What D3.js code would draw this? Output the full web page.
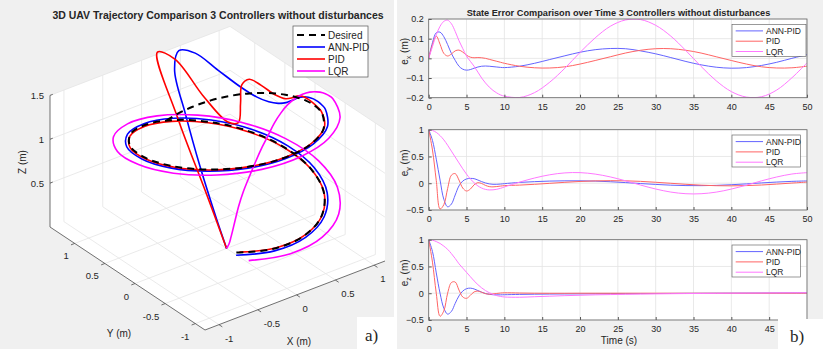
<!DOCTYPE html>
<html>
<head>
<meta charset="utf-8">
<script src="https://cdn.jsdelivr.net/npm/d3@7"></script>
<style>
  body { margin: 0; background: #fff; }
  text { font-family: "Liberation Sans", Arial, sans-serif; fill: #262626; }
</style>
</head>
<body>
<svg id="chart" width="823" height="354"></svg>
<script>
// ---- data ----
const timeS = [0,0.5,1,1.5,2,2.5,3,3.5,4,4.5,5,5.5,6,6.5,7,7.5,8,8.5,9,9.5,10,12,14,16,18,20,22,24,26,28,30,32,34,36,38,40,42,44,46,48,50];

// desired path (m)
const desiredX = [0,0.100,0.199,0.296,0.389,0.479,0.565,0.644,0.717,0.783,0.841,0.891,0.932,0.964,0.985,0.997,1.000,0.992,0.974,0.946,0.909,0.675,0.335,-0.058,-0.443,-0.757,-0.952,-0.996,-0.883,-0.631,-0.279,0.117,0.494,0.794,0.968,0.989,0.855,0.585,0.223,-0.175,-0.544];
const desiredY = [1,0.995,0.980,0.955,0.921,0.878,0.825,0.765,0.697,0.622,0.540,0.454,0.362,0.267,0.170,0.071,-0.029,-0.129,-0.227,-0.323,-0.416,-0.737,-0.942,-0.998,-0.897,-0.654,-0.307,0.087,0.469,0.776,0.960,0.993,0.869,0.608,0.247,-0.146,-0.519,-0.811,-0.975,-0.985,-0.839];
const desiredZ = [1,1.025,1.050,1.075,1.099,1.124,1.148,1.171,1.195,1.217,1.240,1.261,1.282,1.303,1.322,1.341,1.359,1.376,1.392,1.407,1.421,1.466,1.493,1.500,1.487,1.455,1.404,1.338,1.258,1.167,1.071,0.971,0.872,0.779,0.694,0.622,0.564,0.524,0.503,0.502,0.521];

// state errors e = desired - actual (m)
const exAnn = [0,0.08,0.13,0.133,0.11,0.07,0.025,-0.01,-0.04,-0.055,-0.06,-0.057,-0.05,-0.044,-0.04,-0.039,-0.04,-0.042,-0.044,-0.046,-0.047,-0.04,-0.025,-0.006,0.013,0.031,0.044,0.05,0.049,0.038,0.023,0.004,-0.016,-0.033,-0.045,-0.05,-0.047,-0.036,-0.02,0.0,0.019];
const exPid = [0,0.07,0.113,0.072,0.025,0.012,0.022,0.038,0.042,0.032,0.016,0.006,0.003,0.004,0.003,0.0,-0.005,-0.01,-0.015,-0.02,-0.025,-0.04,-0.048,-0.049,-0.043,-0.029,-0.011,0.008,0.027,0.041,0.049,0.049,0.041,0.027,0.008,-0.011,-0.029,-0.043,-0.049,-0.048,-0.04];
const exLqr = [0,0.06,0.12,0.163,0.188,0.194,0.176,0.137,0.09,0.05,0.012,-0.015,-0.04,-0.07,-0.1,-0.125,-0.146,-0.163,-0.176,-0.186,-0.192,-0.199,-0.174,-0.121,-0.05,0.03,0.104,0.163,0.195,0.197,0.168,0.113,0.039,-0.041,-0.114,-0.169,-0.197,-0.195,-0.161,-0.099,-0.023];

const eyAnn = [1,0.8,0.45,0.06,-0.3,-0.44,-0.39,-0.22,-0.05,0.04,0.08,0.09,0.085,0.06,0.03,0.005,-0.012,-0.02,-0.02,-0.015,-0.008,0.015,0.03,0.04,0.045,0.045,0.04,0.028,0.012,-0.006,-0.022,-0.036,-0.044,-0.045,-0.04,-0.028,-0.012,0.006,0.022,0.035,0.043];
const eyPid = [1,0.62,0.05,-0.48,-0.4,-0.1,0.15,0.18,0.06,-0.09,-0.145,-0.11,-0.03,0.01,-0.005,-0.04,-0.063,-0.068,-0.062,-0.053,-0.045,-0.035,-0.02,-0.002,0.017,0.033,0.044,0.048,0.045,0.035,0.018,-0.001,-0.02,-0.036,-0.046,-0.049,-0.044,-0.033,-0.016,0.003,0.021];
const eyLqr = [1,0.985,0.95,0.89,0.81,0.71,0.6,0.49,0.38,0.27,0.17,0.08,0.01,-0.05,-0.09,-0.115,-0.125,-0.123,-0.113,-0.095,-0.07,0.02,0.098,0.158,0.193,0.198,0.171,0.118,0.046,-0.034,-0.108,-0.165,-0.196,-0.196,-0.166,-0.109,-0.035,0.045,0.117,0.172,0.198];

const ezAnn = [1,0.78,0.38,0.0,-0.28,-0.39,-0.34,-0.19,-0.05,0.04,0.085,0.095,0.08,0.05,0.02,-0.005,-0.02,-0.028,-0.03,-0.03,-0.028,-0.022,-0.018,-0.015,-0.013,-0.012,-0.01,-0.009,-0.008,-0.006,-0.005,-0.004,-0.002,-0.001,0.0,0.001,0.002,0.003,0.004,0.005,0.005];
const ezPid = [1,0.58,0.0,-0.43,-0.33,0.0,0.2,0.21,0.06,-0.07,-0.095,-0.04,0.025,0.04,0.018,-0.008,-0.018,-0.013,-0.004,0.004,0.008,0.004,0.0,-0.001,-0.001,0,0,0,0,0,0,0,0,0,0,0,0,0,0,0,0];
const ezLqr = [1,0.99,0.965,0.93,0.88,0.82,0.74,0.65,0.55,0.47,0.39,0.31,0.23,0.16,0.1,0.05,0.01,-0.02,-0.045,-0.06,-0.07,-0.075,-0.065,-0.055,-0.045,-0.038,-0.03,-0.025,-0.02,-0.016,-0.012,-0.009,-0.006,-0.004,-0.002,0.0,0.002,0.004,0.006,0.008,0.01];

const controllers = ["ANN-PID", "PID", "LQR"];
const xTicks3d = [-1, -0.5, 0, 0.5, 1];
const yTicks3d = [-1, -0.5, 0, 0.5, 1];
const zTicks3d = [0.5, 1, 1.5];
const timeTicks = d3.range(0, 51, 5);
const exTicks = [-0.2, -0.1, 0, 0.1, 0.2];
const eyTicks = [-0.5, 0, 0.5, 1];
const ezTicks = [-0.5, 0, 0.5, 1];

// ---- page ----
const svg = d3.select("#chart");
svg.append("rect").attr("x", 0).attr("y", 0).attr("width", 394).attr("height", 349).attr("fill", "#f0f0f0");
svg.append("rect").attr("x", 397).attr("y", 0).attr("width", 426).attr("height", 349).attr("fill", "#f0f0f0");

// ---- left: 3D view (matlab default az -37.5 el 30) ----
const xLim = [-1.18, 1.14], yLim = [-1.16, 1.41], zLim = [0, 1.5];
const x3 = d3.scaleLinear().domain(xLim).range([0, 1]);
const y3 = d3.scaleLinear().domain(yLim).range([0, 1]);
const z3 = d3.scaleLinear().domain(zLim).range([0, 1]);
const corner = [205, 330], vx = [180, -69], vy = [-155, -103], vz = [0, -131.6];
function proj(p) {
  const a = x3(p[0]), b = y3(p[1]), c = z3(p[2]);
  return [corner[0] + a * vx[0] + b * vy[0] + c * vz[0], corner[1] + a * vx[1] + b * vy[1] + c * vz[1]];
}

const g3 = svg.append("g");
const hull = [[xLim[0], yLim[1], 0], [xLim[0], yLim[1], zLim[1]], [xLim[1], yLim[1], zLim[1]],
              [xLim[1], yLim[0], zLim[1]], [xLim[1], yLim[0], 0], [xLim[0], yLim[0], 0]].map(proj);
g3.append("path").attr("d", "M" + hull.join("L") + "Z").attr("fill", "#fff");

// grid on floor and the two back walls
const grid = [];
xTicks3d.forEach(x => { grid.push([[x, yLim[0], 0], [x, yLim[1], 0]]); grid.push([[x, yLim[1], 0], [x, yLim[1], zLim[1]]]); });
yTicks3d.forEach(y => { grid.push([[xLim[0], y, 0], [xLim[1], y, 0]]); grid.push([[xLim[1], y, 0], [xLim[1], y, zLim[1]]]); });
zTicks3d.forEach(z => { grid.push([[xLim[0], yLim[1], z], [xLim[1], yLim[1], z]]); grid.push([[xLim[1], yLim[0], z], [xLim[1], yLim[1], z]]); });
g3.selectAll(".grid3").data(grid).join("line")
  .attr("x1", d => proj(d[0])[0]).attr("y1", d => proj(d[0])[1])
  .attr("x2", d => proj(d[1])[0]).attr("y2", d => proj(d[1])[1])
  .attr("stroke", "#e4e4e4").attr("stroke-width", 0.8);

const axes3 = [[[xLim[0], yLim[1], 0], [xLim[0], yLim[1], zLim[1]]],
               [[xLim[0], yLim[1], 0], [xLim[0], yLim[0], 0]],
               [[xLim[0], yLim[0], 0], [xLim[1], yLim[0], 0]]];
g3.selectAll(".axis3").data(axes3).join("line")
  .attr("x1", d => proj(d[0])[0]).attr("y1", d => proj(d[0])[1])
  .attr("x2", d => proj(d[1])[0]).attr("y2", d => proj(d[1])[1])
  .attr("stroke", "#4d4d4d").attr("stroke-width", 0.8);

const ux = [vx[0] / Math.hypot(...vx), vx[1] / Math.hypot(...vx)];
const uy = [vy[0] / Math.hypot(...vy), vy[1] / Math.hypot(...vy)];
function tick3(p, u, len) {
  const a = proj(p);
  g3.append("line").attr("x1", a[0]).attr("y1", a[1]).attr("x2", a[0] + u[0] * len).attr("y2", a[1] + u[1] * len)
    .attr("stroke", "#4d4d4d").attr("stroke-width", 0.8);
  return a;
}
yTicks3d.forEach(y => {
  const a = tick3([xLim[0], y, 0], [-ux[0], -ux[1]], 4);
  g3.append("text").attr("x", a[0] - 6).attr("y", a[1] + 16).attr("text-anchor", "end")
    .attr("font-size", 9.5).text(y);
});
xTicks3d.forEach(x => {
  const a = tick3([x, yLim[0], 0], [-uy[0], -uy[1]], 4);
  g3.append("text").attr("x", a[0] + 6).attr("y", a[1] + 17).attr("text-anchor", "start")
    .attr("font-size", 9.5).text(x);
});
zTicks3d.forEach(z => {
  const a = tick3([xLim[0], yLim[1], z], ux, 3);
  g3.append("text").attr("x", a[0] - 6).attr("y", a[1] + 3.5).attr("text-anchor", "end")
    .attr("font-size", 9.5).text(z);
});
g3.append("text").attr("x", 119).attr("y", 337).attr("text-anchor", "middle").attr("font-size", 10).text("Y (m)");
g3.append("text").attr("x", 299).attr("y", 345).attr("text-anchor", "middle").attr("font-size", 10).text("X (m)");
g3.append("text").attr("transform", "translate(26,162) rotate(-90)").attr("text-anchor", "middle")
  .attr("font-size", 10).text("Z (m)");

// trajectories: actual = desired - error
const errs = [[exAnn, eyAnn, ezAnn], [exPid, eyPid, ezPid], [exLqr, eyLqr, ezLqr]];
const colors3d = ["#0000ff", "#ff0000", "#ff00ff"];
const line3 = d3.line().curve(d3.curveCatmullRom.alpha(0.5));
const desiredPts = timeS.map((t, i) => [desiredX[i], desiredY[i], desiredZ[i]]);
errs.forEach((e, k) => {
  const pts = timeS.map((t, i) => [desiredX[i] - e[0][i], desiredY[i] - e[1][i], desiredZ[i] - e[2][i]]);
  g3.append("path").attr("d", line3(pts.map(proj))).attr("fill", "none")
    .attr("stroke", colors3d[k]).attr("stroke-width", 1.6);
});
g3.append("path").attr("d", line3(desiredPts.map(proj))).attr("fill", "none")
  .attr("stroke", "#000").attr("stroke-width", 2).attr("stroke-dasharray", "7,5");

// title + legend
g3.append("text").attr("x", 218).attr("y", 19).attr("text-anchor", "middle").attr("font-size", 10.5)
  .attr("font-weight", "bold").attr("fill", "#000").text("3D UAV Trajectory Comparison 3 Controllers without disturbances");
const leg3 = g3.append("g");
leg3.append("rect").attr("x", 293).attr("y", 26).attr("width", 75).attr("height", 51)
  .attr("fill", "#fff").attr("stroke", "#555").attr("stroke-width", 0.7);
const legNames3 = ["Desired"].concat(controllers);
const legColors3 = ["#000"].concat(colors3d);
legNames3.forEach((n, i) => {
  const y = 35 + i * 12;
  leg3.append("line").attr("x1", 297).attr("x2", 325).attr("y1", y).attr("y2", y)
    .attr("stroke", legColors3[i]).attr("stroke-width", i === 0 ? 2 : 1.6)
    .attr("stroke-dasharray", i === 0 ? "7,5" : null);
  leg3.append("text").attr("x", 328).attr("y", y + 3.5).attr("font-size", 10).text(n);
});

// a) label
svg.append("rect").attr("x", 357).attr("y", 317).attr("width", 38).attr("height", 37).attr("fill", "#fff");
svg.append("text").attr("x", 365).attr("y", 341).attr("font-size", 17)
  .style("font-family", "'Liberation Serif', 'Times New Roman', serif").attr("fill", "#000").text("a)");

// ---- right: error vs time ----
const xT = d3.scaleLinear().domain([0, 50]).range([428.7, 807]);
const seriesColors = ["#6464ff", "#ff6464", "#ff78ff"];
const panels = [
  { sub: "x", top: 19, bottom: 97.7, domain: [-0.2, 0.2], ticks: exTicks, series: [exAnn, exPid, exLqr], legW: 74 },
  { sub: "y", top: 129.7, bottom: 210, domain: [-0.5, 1], ticks: eyTicks, series: [eyAnn, eyPid, eyLqr], legW: 68.3 },
  { sub: "z", top: 239.7, bottom: 320, domain: [-0.5, 1], ticks: ezTicks, series: [ezAnn, ezPid, ezLqr], legW: 68.3 }
];
panels.forEach((p, pi) => {
  const g = svg.append("g");
  const yS = d3.scaleLinear().domain(p.domain).range([p.bottom, p.top]);
  g.append("rect").attr("x", xT(0)).attr("y", p.top).attr("width", xT(50) - xT(0)).attr("height", p.bottom - p.top)
    .attr("fill", "#fff");
  g.selectAll(".vg").data(timeTicks).join("line")
    .attr("x1", d => xT(d)).attr("x2", d => xT(d)).attr("y1", p.top).attr("y2", p.bottom)
    .attr("stroke", "#e3e3e3").attr("stroke-width", 0.8);
  g.selectAll(".hg").data(p.ticks).join("line")
    .attr("x1", xT(0)).attr("x2", xT(50)).attr("y1", d => yS(d)).attr("y2", d => yS(d))
    .attr("stroke", "#e3e3e3").attr("stroke-width", 0.8);

  const clipId = "clip" + pi;
  g.append("clipPath").attr("id", clipId).append("rect")
    .attr("x", xT(0)).attr("y", p.top).attr("width", xT(50) - xT(0)).attr("height", p.bottom - p.top);
  const ln = d3.line().x((d, i) => xT(timeS[i])).y(d => yS(d)).curve(d3.curveCatmullRom.alpha(0.5));
  g.append("g").attr("clip-path", "url(#" + clipId + ")").selectAll("path").data(p.series).join("path")
    .attr("d", d => ln(d)).attr("fill", "none")
    .attr("stroke", (d, i) => seriesColors[i]).attr("stroke-width", 1);

  // bottom panel: last label sits under the b) tag in the figure
  const shownTicks = pi === 2 ? timeTicks.slice(0, -1) : timeTicks;
  const ax = g.append("g").attr("transform", `translate(0,${p.bottom})`)
    .call(d3.axisBottom(xT).tickValues(shownTicks).tickSizeInner(-3).tickSizeOuter(0).tickPadding(6));
  const ay = g.append("g").attr("transform", `translate(${xT(0)},0)`)
    .call(d3.axisLeft(yS).tickValues(p.ticks).tickSizeInner(-3).tickSizeOuter(0).tickPadding(5).tickFormat(d3.format("")));
  [ax, ay].forEach(a => {
    a.select(".domain").remove();
    a.selectAll("line").attr("stroke", "#555");
    a.selectAll("text").attr("font-size", 9).attr("fill", "#333").style("font-family", "'Liberation Sans', Arial, sans-serif");
  });
  g.append("rect").attr("x", xT(0)).attr("y", p.top).attr("width", xT(50) - xT(0)).attr("height", p.bottom - p.top)
    .attr("fill", "none").attr("stroke", "#666").attr("stroke-width", 0.8);

  const lab = g.append("text").attr("transform", `translate(408,${(p.top + p.bottom) / 2 - 7}) rotate(-90)`)
    .attr("text-anchor", "middle").attr("font-size", 10);
  lab.append("tspan").text("e");
  lab.append("tspan").attr("font-size", 7).attr("dy", 2.5).text(p.sub);
  lab.append("tspan").attr("dy", -2.5).text(" (m)");

  const ly = p.top + 5.3;
  g.append("rect").attr("x", 732).attr("y", ly).attr("width", p.legW).attr("height", 32)
    .attr("fill", "#fff").attr("stroke", "#555").attr("stroke-width", 0.6);
  controllers.forEach((n, i) => {
    const yy = ly + 6.6 + i * 10.3;
    g.append("line").attr("x1", 735.7).attr("x2", 763).attr("y1", yy).attr("y2", yy)
      .attr("stroke", seriesColors[i]).attr("stroke-width", 1);
    g.append("text").attr("x", 766).attr("y", yy + 3).attr("font-size", 8.5).text(n);
  });
});
svg.append("text").attr("x", 618.5).attr("y", 15.5).attr("text-anchor", "middle").attr("font-size", 9.2)
  .attr("font-weight", "bold").attr("fill", "#000").text("State Error Comparison over Time 3 Controllers without disturbances");
svg.append("text").attr("x", 619).attr("y", 344).attr("text-anchor", "middle").attr("font-size", 10).text("Time (s)");

// b) label
svg.append("rect").attr("x", 778).attr("y", 319).attr("width", 45).attr("height", 35).attr("fill", "#fff");
svg.append("text").attr("x", 790).attr("y", 342).attr("font-size", 17)
  .style("font-family", "'Liberation Serif', 'Times New Roman', serif").attr("fill", "#000").text("b)");
</script>
</body>
</html>
